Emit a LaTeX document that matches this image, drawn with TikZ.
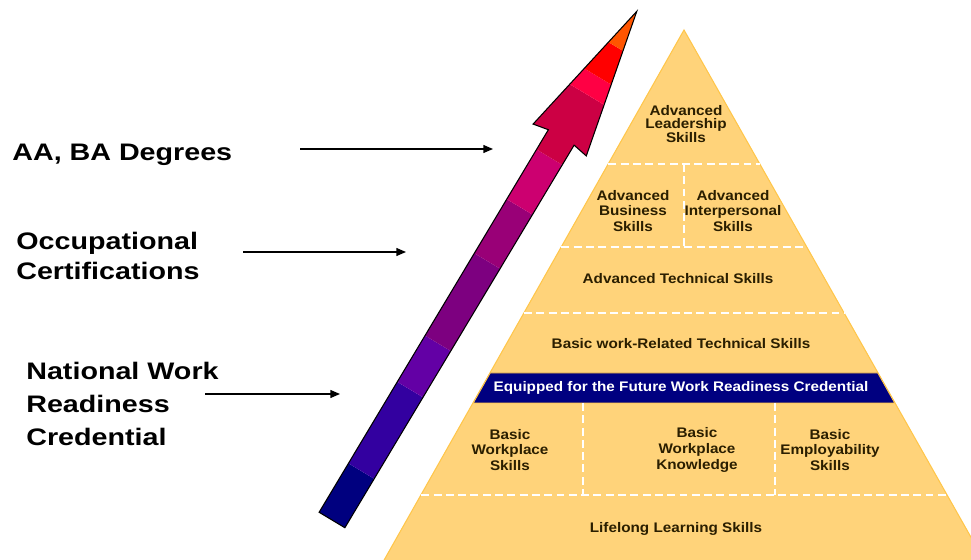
\documentclass[tikz,border=0pt]{standalone}
\usepackage{fontspec}
\setmainfont{Liberation Sans}
\newfontfamily\pyrfont[FakeStretch=1.1]{Liberation Sans}
\newfontfamily\labfont[FakeStretch=1.2]{Liberation Sans}
\usepackage{tikz}
\usetikzlibrary{arrows.meta}

\definecolor{pyrYellow}{HTML}{FFD37A}
\definecolor{pyrEdge}{HTML}{FFC64A}
\definecolor{bandBlue}{HTML}{000080}
\definecolor{textDark}{HTML}{2A1E00}
\definecolor{arrA}{HTML}{00007F}
\definecolor{arrB}{HTML}{3300A0}
\definecolor{arrC}{HTML}{6300A5}
\definecolor{arrD}{HTML}{7D0080}
\definecolor{arrE}{HTML}{990077}
\definecolor{arrF}{HTML}{CC0070}
\definecolor{arrG}{HTML}{CC0044}
\definecolor{arrH}{HTML}{FF0044}
\definecolor{arrI}{HTML}{FF0000}
\definecolor{arrJ}{HTML}{FF5500}

\begin{document}
\begin{tikzpicture}[x=0.02cm,y=-0.02cm]
   \tikzstyle{myLabel}=[anchor=west, align=left, inner sep=0pt, font=\labfont\bfseries\fontsize{13.6}{18}\selectfont]
   \tikzstyle{myText}=[align=center, inner sep=0pt, text=textDark, font=\pyrfont\bfseries\fontsize{7.9}{9}\selectfont]
   \tikzstyle{myPointer}=[-{Triangle[length=5.5pt,width=4.5pt]}, line width=0.8pt]
   \tikzstyle{myDash}=[white, line width=1.5pt, dash pattern=on 4.5pt off 2.5pt]
   \tikzstyle{myArrow}=[draw=black, line width=0.6pt, line join=miter]

   \useasboundingbox (0,0) rectangle (971,560);

   % pyramid
   \filldraw[fill=pyrYellow, draw=pyrEdge, line width=0.6pt] (684,30) -- (985,562) -- (383,562) -- cycle;
   \filldraw[fill=bandBlue, draw=pyrEdge, line width=0.5pt] (490.2,373) -- (877.8,373) -- (894.7,403) -- (473.3,403) -- cycle;
   \draw[myDash] (608.3,164) -- (759.7,164);
   \draw[myDash] (684,164) -- (684,247);
   \draw[myDash] (561.4,247) -- (806.6,247);
   \draw[myDash] (524.1,313) -- (843.9,313);
   \draw[myDash] (583,403) -- (583,495);
   \draw[myDash] (775,403) -- (775,495);
   \draw[myDash] (421.3,495) -- (946.7,495);

   \node[myText, font=\pyrfont\bfseries\fontsize{7.9}{7.8}\selectfont] (lead) at (686,124) {Advanced\\Leadership\\Skills};
   \node[myText] (bus) at (633,211) {Advanced\\Business\\Skills};
   \node[myText] (inter) at (733,211) {Advanced\\Interpersonal\\Skills};
   \node[myText] (tech) at (678,279) {Advanced Technical Skills};
   \node[myText] (work) at (681,344) {Basic work-Related Technical Skills};
   \node[myText, text=white] (efr) at (681,388) {Equipped for the Future Work Readiness Credential};
   \node[myText] (bws) at (510,450) {Basic\\Workplace\\Skills};
   \node[myText] (bwk) at (697,450) {Basic\\Workplace\\Knowledge};
   \node[myText] (bes) at (830,450) {Basic\\Employability\\Skills};
   \node[myText] (life) at (676,529) {Lifelong Learning Skills};

   % rising arrow
   \begin{scope}[shift={(332,520)}, rotate=59.07]
      \begin{scope}
         \clip (0,-15) -- (446,-15) -- (443,-31) -- (593,0) -- (443,31) -- (446,15) -- (0,15) -- cycle;
         \fill[arrA] (0,-40) rectangle (57,40);
         \fill[arrB] (57,-40) rectangle (152,40);
         \fill[arrC] (152,-40) rectangle (206,40);
         \fill[arrD] (206,-40) rectangle (302,40);
         \fill[arrE] (302,-40) rectangle (365,40);
         \fill[arrF] (365,-40) rectangle (423,40);
         \fill[arrG] (423,-40) rectangle (496,40);
         \fill[arrH] (496,-40) rectangle (517,40);
         \fill[arrI] (517,-40) rectangle (552,40);
         \fill[arrJ] (552,-40) rectangle (600,40);
      \end{scope}
      \draw[myArrow] (0,-15) -- (446,-15) -- (443,-31) -- (593,0) -- (443,31) -- (446,15) -- (0,15) -- cycle;
   \end{scope}

   % levels
   \node[myLabel] (deg) at (12,155) {AA, BA Degrees};
   \node[myLabel, font=\labfont\bfseries\fontsize{13.6}{17.6}\selectfont] (occ) at (16,256) {Occupational\\Certifications};
   \node[myLabel, font=\labfont\bfseries\fontsize{13.6}{19}\selectfont] (nwr) at (26,404) {National Work\\Readiness\\Credential};

   \coordinate (degS) at (300,149);
   \coordinate (degE) at (493,149);
   \coordinate (occS) at (243,252);
   \coordinate (occE) at (406,252);
   \coordinate (nwrS) at (205,394);
   \coordinate (nwrE) at (340,394);
   \draw[myPointer] (degS) -- (degE);
   \draw[myPointer] (occS) -- (occE);
   \draw[myPointer] (nwrS) -- (nwrE);
\end{tikzpicture}
\end{document}
